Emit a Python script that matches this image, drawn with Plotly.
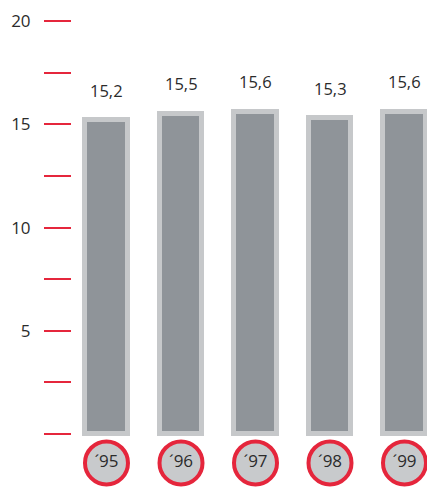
import plotly.graph_objects as go

years = ["´95", "´96", "´97", "´98", "´99"]
values = [15.2, 15.5, 15.6, 15.3, 15.6]
value_labels = ["15,2", "15,5", "15,6", "15,3", "15,6"]
tick_vals = [0, 5, 10, 15, 20]
tick_text = ["", "5", "10", "15", "20"]

RED = "#e5263c"
BAR_FILL = "#8f9499"
BAR_EDGE = "#c6c8ca"
TEXT = "#2b2b2b"
FONT = "Open Sans"

x = list(range(len(years)))

fig = go.Figure()
fig.add_trace(go.Bar(
    x=x, y=values, width=0.564,
    marker=dict(color=BAR_FILL, line=dict(color=BAR_EDGE, width=5)),
    hoverinfo="skip",
))
# year badges below the axis
badge_y = -1.4
fig.add_trace(go.Scatter(
    x=x, y=[badge_y] * len(x), mode="markers+text",
    text=years, textposition="middle center",
    textfont=dict(family=FONT, size=17, color=TEXT),
    marker=dict(size=43, color="#c8cacc", line=dict(color=RED, width=4)),
    cliponaxis=False, hoverinfo="skip",
))
for xi, v, lab in zip(x, values, value_labels):
    fig.add_annotation(x=xi, y=v, text=lab, showarrow=False, yshift=30,
                       font=dict(family=FONT, size=16.5, color=TEXT))

fig.update_layout(
    width=427, height=487,
    margin=dict(l=72, r=0, t=0, b=3),
    plot_bgcolor="white", paper_bgcolor="white",
    showlegend=False, bargap=0,
    font=dict(family=FONT, size=17, color=TEXT),
)
fig.update_xaxes(range=[-0.463, 4.302], showgrid=False, zeroline=False,
                 showticklabels=False, showline=False, ticks="")
fig.update_yaxes(range=[-2.42, 21.02], showgrid=False, zeroline=False, showline=False,
                 tickvals=tick_vals, ticktext=tick_text, ticks="outside",
                 ticklen=27, tickwidth=1.5, tickcolor=RED, ticklabelstandoff=10,
                 tickfont=dict(family=FONT, size=17, color=TEXT),
                 minor=dict(tick0=0, dtick=2.5, ticks="outside", ticklen=27,
                            tickwidth=1.5, tickcolor=RED, showgrid=False))

fig.write_html("out.html")
